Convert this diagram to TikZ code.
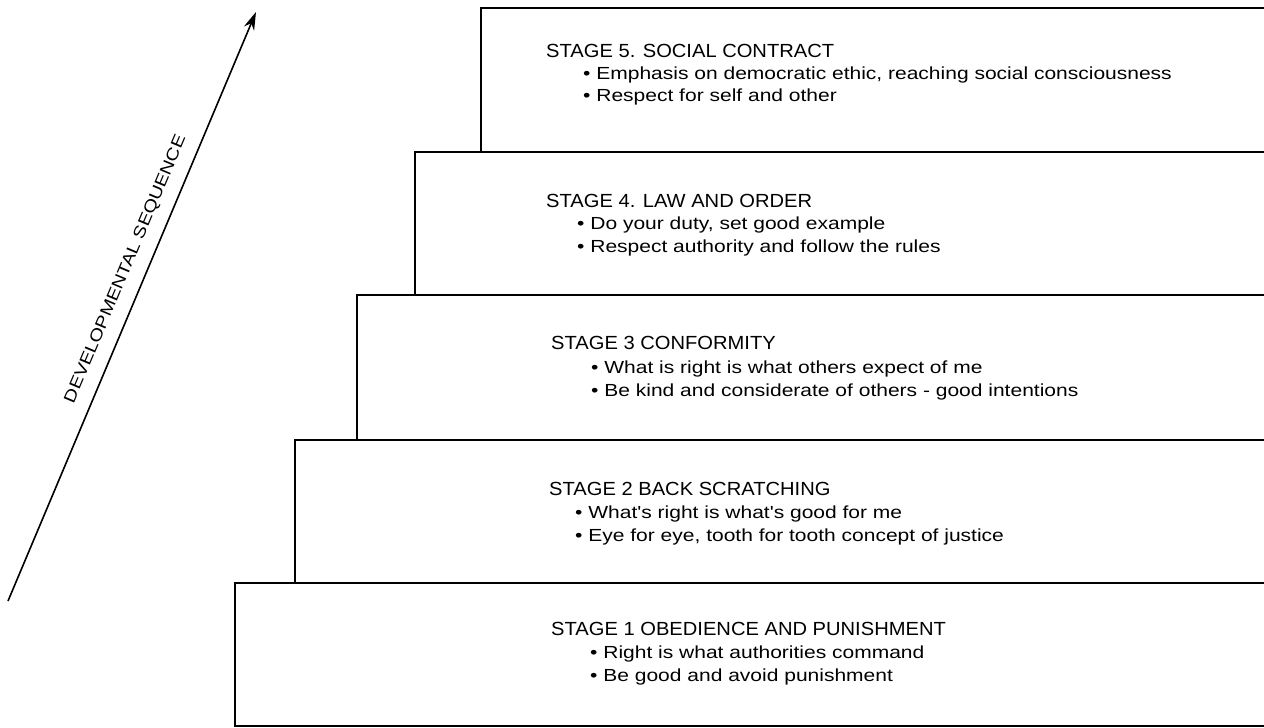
\documentclass[tikz,border=0pt]{standalone}
\usepackage{fontspec}
\setmainfont{Liberation Sans}
\newfontfamily\stagetitlefont{Liberation Sans}[FakeStretch=1.06]
\newfontfamily\stageitemfont{Liberation Sans}[FakeStretch=1.2]
\usetikzlibrary{arrows.meta}
\begin{document}
\begin{tikzpicture}[x=1pt,y=-1pt,
  stagebox/.style={draw=black,line width=1.7pt},
  title/.style={anchor=base west,inner sep=0pt,font=\stagetitlefont\fontsize{19}{22}\selectfont},
  item/.style={anchor=base west,inner sep=0pt,font=\stageitemfont\fontsize{17.5}{21}\selectfont},
  seqarrow/.style={line width=1.6pt,-{Stealth[length=18pt,width=11pt]}}]
\useasboundingbox[fill=white] (0,0) rectangle (1264,728);
% staircase boxes
\draw[stagebox] (481,8) rectangle (1275,152);
\draw[stagebox] (415,152) rectangle (1275,295);
\draw[stagebox] (357,295) rectangle (1275,440);
\draw[stagebox] (295,440) rectangle (1275,583);
\draw[stagebox] (235,583) rectangle (1275,726);
% stage 5
\node[title] (t5) at (546,57) {STAGE 5. SOCIAL CONTRACT};
\node[item] (b5a) at (583,79) {\textbullet\ Emphasis on democratic ethic, reaching social consciousness};
\node[item] (b5b) at (583,101) {\textbullet\ Respect for self and other};
% stage 4
\node[title] (t4) at (546,207) {STAGE 4. LAW AND ORDER};
\node[item] (b4a) at (577,229) {\textbullet\ Do your duty, set good example};
\node[item] (b4b) at (577,252) {\textbullet\ Respect authority and follow the rules};
% stage 3
\node[title] (t3) at (551,349) {STAGE 3 CONFORMITY};
\node[item] (b3a) at (591,373) {\textbullet\ What is right is what others expect of me};
\node[item] (b3b) at (591,396) {\textbullet\ Be kind and considerate of others - good intentions};
% stage 2
\node[title] (t2) at (549,495) {STAGE 2 BACK SCRATCHING};
\node[item] (b2a) at (575,518) {\textbullet\ What's right is what's good for me};
\node[item] (b2b) at (575,541) {\textbullet\ Eye for eye, tooth for tooth concept of justice};
% stage 1
\node[title] (t1) at (551,635) {STAGE 1 OBEDIENCE AND PUNISHMENT};
\node[item] (b1a) at (590,658) {\textbullet\ Right is what authorities command};
\node[item] (b1b) at (590,681) {\textbullet\ Be good and avoid punishment};
% developmental arrow
\coordinate (s) at (8,601);
\coordinate (e) at (256,12);
\draw[seqarrow] (s) -- node[sloped,pos=0.55,above=12pt,inner sep=0pt,font=\stageitemfont\fontsize{16.5}{20}\selectfont] (seq) {DEVELOPMENTAL SEQUENCE} (e);
\end{tikzpicture}
\end{document}
